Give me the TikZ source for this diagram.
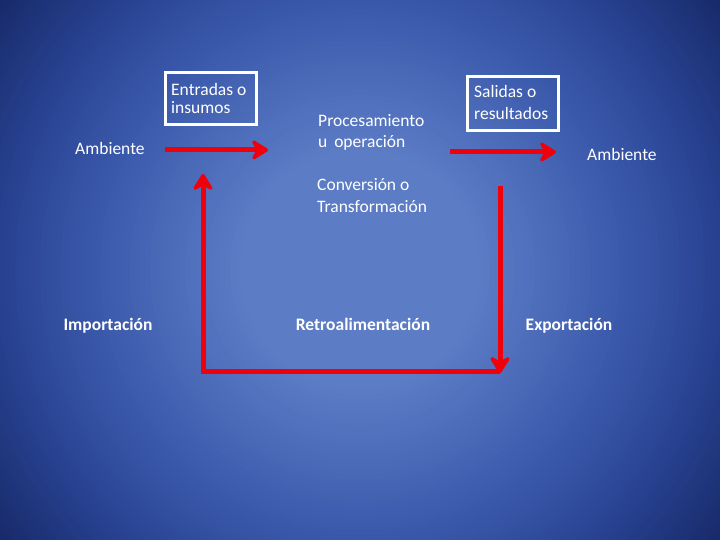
\documentclass[tikz,border=0pt]{standalone}
\usepackage{fontspec}
\setmainfont{Carlito}
\usetikzlibrary{arrows.meta}
\definecolor{bgin}{RGB}{92,124,198}
\definecolor{bgmid}{RGB}{58,88,170}
\definecolor{bgedge}{RGB}{40,66,145}
\definecolor{bgout}{RGB}{24,42,106}
\definecolor{arrowred}{RGB}{240,0,10}
\tikzset{
  lbl/.style={text=white, font=\fontsize{17.5}{21}\selectfont, inner sep=0pt, align=left, anchor=base west},
  blbl/.style={text=white, font=\fontsize{17.5}{21}\selectfont\bfseries, inner sep=0pt, anchor=base},
  wbox/.style={draw=white, line width=3pt},
  redarrow/.style={draw=arrowred, line width=5pt, -{Stealth[length=20pt,width=25pt,inset=7pt,round]}}
}
\begin{document}
\begin{tikzpicture}[x=1pt,y=-1pt]
\useasboundingbox (0,0) rectangle (720,540);
\clip (0,0) rectangle (720,540);
\fill[bgout] (0,0) rectangle (720,540);
% radial background built from concentric discs
\foreach \i in {90,89,...,1}{
  \pgfmathsetmacro\r{\i*5}
  \ifdim\r pt<120pt
    \colorlet{cc}{bgin}
  \else\ifdim\r pt<270pt
    \pgfmathsetmacro\p{(\r-120)/150*100}
    \colorlet{cc}{bgmid!\p!bgin}
  \else\ifdim\r pt<360pt
    \pgfmathsetmacro\p{(\r-270)/90*100}
    \colorlet{cc}{bgedge!\p!bgmid}
  \else
    \pgfmathsetmacro\p{(\r-360)/90*100}
    \colorlet{cc}{bgout!\p!bgedge}
  \fi\fi\fi
  \fill[cc] (360,270) circle[radius=\r pt];
}
% boxes
\draw[wbox] (165,73) rectangle (256,125);
\draw[wbox] (467,77) rectangle (558,131);
% texts (base anchor = last line baseline)
\node[lbl, font=\fontsize{17.5}{18}\selectfont] (ent) at (171,114) {Entradas o\\insumos};
\node[lbl] (proc) at (318,148) {Procesamiento\\u\, operación};
\node[lbl, font=\fontsize{17.5}{22}\selectfont] (sal) at (474,120) {Salidas o\\resultados};
\node[lbl] (amb1) at (75,155) {Ambiente};
\node[lbl] (amb2) at (587,161) {Ambiente};
\node[lbl, font=\fontsize{17.5}{22}\selectfont] (conv) at (317,213) {Conversión o\\Transformación};
\node[blbl] (imp) at (108,330) {Importación};
\node[blbl] (retro) at (363,330) {Retroalimentación};
\node[blbl] (exp) at (569,330) {Exportación};
% connector points
\coordinate (a1s) at (165,150);
\coordinate (a1e) at (268,150);
\coordinate (a2s) at (450,152);
\coordinate (a2e) at (556,152);
\coordinate (rtop) at (500,186);
\coordinate (rbot) at (500,373);
\coordinate (corner) at (500,371);
\coordinate (lbot) at (203,371);
\coordinate (ltop) at (203,174);
\draw[redarrow] (a1s) -- (a1e);
\draw[redarrow] (a2s) -- (a2e);
\draw[redarrow] (rtop) -- (rbot);
\draw[redarrow, line join=miter] (corner) -- (lbot) -- (ltop);
\end{tikzpicture}
\end{document}
